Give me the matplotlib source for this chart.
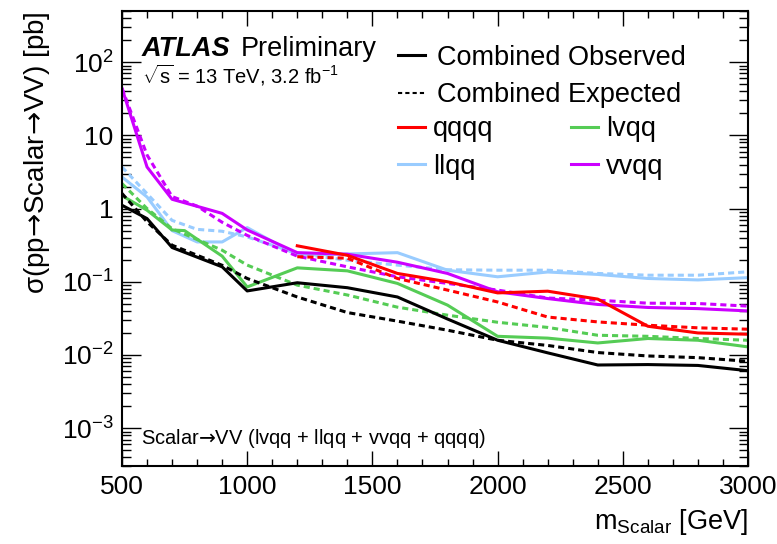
import matplotlib
matplotlib.use("Agg")
import matplotlib.pyplot as plt
from matplotlib.ticker import FixedLocator, FuncFormatter, LogLocator, MultipleLocator, NullFormatter
from matplotlib.lines import Line2D

plt.rcParams["font.family"] = ["Liberation Sans", "DejaVu Sans"]
plt.rcParams["mathtext.fontset"] = "custom"
plt.rcParams["mathtext.rm"] = "Liberation Sans"
plt.rcParams["mathtext.it"] = "Liberation Sans:italic"
plt.rcParams["mathtext.bf"] = "Liberation Sans:bold"
plt.rcParams["mathtext.sf"] = "DejaVu Sans"

# ---- limits vs scalar mass [GeV], cross section in pb ----
m_comb = [500, 600, 700, 900, 1000, 1200, 1400, 1600, 1800, 2000, 2200, 2400, 2600, 2800, 3000]
comb_obs = [1.11, 0.73, 0.294, 0.16, 0.075, 0.097, 0.083, 0.062, 0.031, 0.0159, 0.0107, 0.0073, 0.0074, 0.0072, 0.0061]
comb_exp = [1.61, 0.66, 0.316, 0.168, 0.111, 0.062, 0.038, 0.029, 0.0218, 0.0159, 0.0135, 0.0108, 0.0097, 0.0092, 0.0082]

m_qqqq = [1200, 1400, 1600, 1800, 2000, 2200, 2400, 2600, 2800, 3000]
qqqq_obs = [0.31, 0.23, 0.13, 0.10, 0.0705, 0.0744, 0.058, 0.0247, 0.020, 0.0192]
qqqq_exp = [0.22, 0.21, 0.111, 0.077, 0.053, 0.033, 0.0283, 0.0255, 0.0235, 0.0225]

m_lvqq_obs = [500, 600, 700, 750, 900, 1000, 1200, 1400, 1600, 1800, 2000, 2200, 2400, 2600, 2800, 3000]
lvqq_obs = [1.50, 0.95, 0.51, 0.50, 0.224, 0.085, 0.155, 0.141, 0.095, 0.048, 0.018, 0.017, 0.0146, 0.0168, 0.0159, 0.0129]
m_lvqq_exp = [500, 600, 700, 900, 1000, 1200, 1400, 1600, 1800, 2000, 2200, 2400, 2600, 2800, 3000]
lvqq_exp = [2.2, 1.0, 0.53, 0.27, 0.169, 0.09, 0.066, 0.045, 0.035, 0.028, 0.0238, 0.0186, 0.018, 0.0168, 0.0159]

m_llqq = [500, 600, 700, 800, 900, 1000, 1200, 1400, 1600, 1800, 2000, 2200, 2400, 2600, 2800, 3000]
llqq_obs = [2.7, 1.44, 0.50, 0.35, 0.35, 0.55, 0.23, 0.24, 0.25, 0.144, 0.117, 0.136, 0.126, 0.111, 0.106, 0.114]
llqq_exp = [3.7, 1.6, 0.69, 0.52, 0.49, 0.41, 0.244, 0.197, 0.169, 0.146, 0.144, 0.144, 0.13, 0.123, 0.123, 0.137]

m_vvqq_obs = [500, 600, 700, 900, 1000, 1200, 1400, 1600, 1800, 2000, 2200, 2400, 2600, 2800, 3000]
vvqq_obs = [44, 3.7, 1.34, 0.86, 0.51, 0.25, 0.238, 0.185, 0.13, 0.073, 0.059, 0.049, 0.0446, 0.043, 0.040]
m_vvqq_exp = [500, 600, 700, 800, 900, 1000, 1200, 1400, 1600, 1800, 2000, 2200, 2400, 2600, 2800, 3000]
vvqq_exp = [44, 5.4, 1.46, 1.08, 0.65, 0.43, 0.224, 0.16, 0.117, 0.095, 0.077, 0.06, 0.056, 0.051, 0.0505, 0.0465]

y_ticks = [1e-3, 1e-2, 1e-1, 1, 10, 100]
y_tick_labels = [r"$10^{-3}$", r"$10^{-2}$", r"$10^{-1}$", "1", "10", r"$10^{2}$"]
x_ticks = [500, 1000, 1500, 2000, 2500, 3000]

c_red = "#ff0000"
c_blue = "#99ccff"
c_green = "#55cc55"
c_mag = "#cc00ff"
lw = 2.2
dash = (0, (2.0, 1.3))
arrow = "$\\mathsf{\u2192}$"

fig = plt.figure(figsize=(7.77, 5.44), dpi=100)
ax = fig.add_axes([0.1570, 0.1425, 0.8057, 0.8373])

ax.plot(m_llqq, llqq_exp, color=c_blue, lw=lw, ls=dash)
ax.plot(m_llqq, llqq_obs, color=c_blue, lw=lw)
ax.plot(m_lvqq_exp, lvqq_exp, color=c_green, lw=lw, ls=dash)
ax.plot(m_lvqq_obs, lvqq_obs, color=c_green, lw=lw)
ax.plot(m_vvqq_exp, vvqq_exp, color=c_mag, lw=lw, ls=dash)
ax.plot(m_vvqq_obs, vvqq_obs, color=c_mag, lw=lw)
ax.plot(m_qqqq, qqqq_exp, color=c_red, lw=lw, ls=dash)
ax.plot(m_qqqq, qqqq_obs, color=c_red, lw=lw)
ax.plot(m_comb, comb_exp, color="black", lw=lw, ls=dash)
ax.plot(m_comb, comb_obs, color="black", lw=lw)

ax.set_yscale("log")
ax.set_xlim(500, 3000)
ax.set_ylim(3e-4, 500)

ax.yaxis.set_major_locator(FixedLocator(y_ticks))
ax.yaxis.set_major_formatter(FuncFormatter(lambda v, p: y_tick_labels[y_ticks.index(v)] if v in y_ticks else ""))
ax.yaxis.set_minor_locator(LogLocator(base=10, subs=range(2, 10), numticks=20))
ax.yaxis.set_minor_formatter(NullFormatter())
ax.xaxis.set_major_locator(FixedLocator(x_ticks))
ax.xaxis.set_minor_locator(MultipleLocator(100))

for s in ax.spines.values():
    s.set_linewidth(1.5)
ax.tick_params(which="both", direction="in", top=True, right=True, width=1.0, labelsize=19)
ax.tick_params(axis="x", which="major", length=10.5, pad=6)
ax.tick_params(axis="x", which="minor", length=5)
ax.tick_params(axis="y", which="major", length=13.5, pad=6)
ax.tick_params(axis="y", which="minor", length=6.8)

ax.set_xlabel(r"m$_{\mathrm{Scalar}}$ [GeV]", fontsize=19.5, loc="right", labelpad=6)
ax.set_ylabel(f"σ(pp{arrow}Scalar{arrow}VV) [pb]", fontsize=20, loc="top", labelpad=7)

ax.text(0.032, 0.901, "ATLAS", transform=ax.transAxes, fontsize=19.5, fontweight="bold",
        fontstyle="italic", va="baseline")
ax.text(0.189, 0.901, "Preliminary", transform=ax.transAxes, fontsize=19.5, va="baseline")
ax.text(0.032, 0.840, r"$\sqrt{\mathrm{s}}$ = 13 TeV, 3.2 fb$^{-1}$", transform=ax.transAxes,
        fontsize=14.5, va="baseline")
ax.text(0.030, 0.0494, f"Scalar{arrow}VV (lvqq + llqq + vvqq + qqqq)", transform=ax.transAxes,
        fontsize=14.5, va="baseline")

h_obs = Line2D([], [], color="black", lw=lw)
h_exp = Line2D([], [], color="black", lw=1.5, ls=(0, (2.0, 1.5)))
leg1 = ax.legend([h_obs, h_exp], ["Combined Observed", "Combined Expected"],
                 loc="upper left", bbox_to_anchor=(0.41, 0.967), frameon=False, fontsize=19.5,
                 handlelength=1.0, handletextpad=0.45, labelspacing=0.42, borderaxespad=0.3)
ax.add_artist(leg1)

h_q = Line2D([], [], color=c_red, lw=lw)
h_l = Line2D([], [], color=c_blue, lw=lw)
h_v = Line2D([], [], color=c_green, lw=lw)
h_n = Line2D([], [], color=c_mag, lw=lw)
ax.legend([h_q, h_l, h_v, h_n], ["qqqq", "llqq", "lvqq", "vvqq"], ncol=2,
          loc="upper left", bbox_to_anchor=(0.41, 0.810), frameon=False, fontsize=19.5,
          handlelength=1.0, handletextpad=0.31, labelspacing=0.42, columnspacing=2.85,
          borderaxespad=0.3)

fig.savefig("out.png", dpi=100)
